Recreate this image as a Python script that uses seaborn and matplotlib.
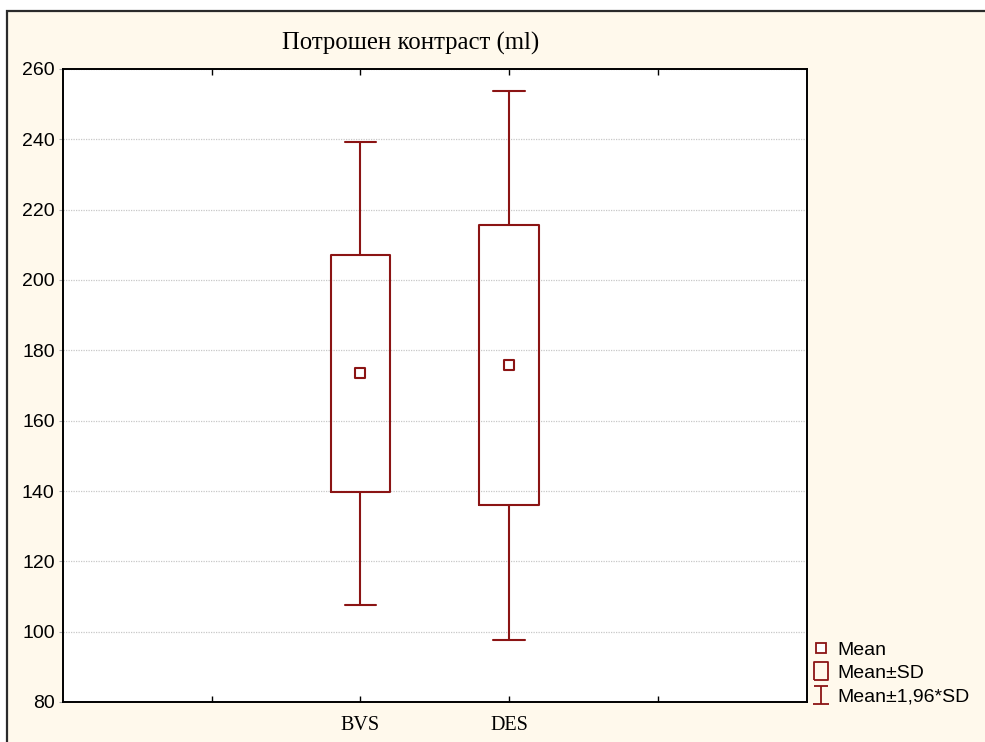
import matplotlib
matplotlib.use("Agg")
import matplotlib.pyplot as plt
import seaborn as sns
from matplotlib.lines import Line2D
from matplotlib.patches import Rectangle
from matplotlib.path import Path

# values (ml)
groups = ["BVS", "DES"]
group_pos = [2, 3]
means = [173.5, 175.8]
sd_low = [139.8, 136.0]
sd_high = [207.1, 215.5]
ci_low = [107.6, 97.7]
ci_high = [239.3, 253.7]
xtick_pos = [1, 2, 3, 4]
xtick_labels = ["", "BVS", "DES", ""]
yticks = list(range(80, 261, 20))
legend_labels = ["Mean", "Mean±SD", "Mean±1,96*SD"]

sns.set_theme(style="white")
plt.rcParams["font.family"] = ["Liberation Sans", "DejaVu Sans"]
plt.rcParams["text.color"] = "black"
plt.rcParams["xtick.color"] = "black"
plt.rcParams["ytick.color"] = "black"

red = "#8B1414"
cream = "#FFF9EC"
W, H = 985, 742

fig = plt.figure(figsize=(W / 100, H / 100), dpi=100)
fig.patch.set_facecolor("white")

# cream panel with the dark frame, running off the right and bottom edges
panel = Rectangle((7 / W, -0.1), 1.2, 1 - 11 / H + 0.1, transform=fig.transFigure,
                  facecolor=cream, edgecolor="#2b2b2b", lw=1.6, zorder=-5)
fig.add_artist(panel)

ax = fig.add_axes([63 / W, 1 - 702 / H, (806.5 - 63) / W, (702 - 69) / H])
ax.set_facecolor("white")

stats = []
for g, m, lo, hi, wlo, whi in zip(groups, means, sd_low, sd_high, ci_low, ci_high):
    stats.append(dict(label=g, med=m, mean=m, q1=lo, q3=hi, whislo=wlo, whishi=whi, fliers=[]))

line_kw = dict(color=red, linewidth=1.5)
ax.bxp(stats, positions=group_pos, widths=0.4, capwidths=0.21, showfliers=False,
       boxprops=line_kw, whiskerprops=line_kw, capprops=line_kw,
       medianprops=dict(linewidth=0, color="none"), manage_ticks=False)

sns.scatterplot(x=group_pos, y=means, marker="s", s=55, facecolor="white",
                edgecolor=red, linewidth=1.5, ax=ax, zorder=4, legend=False)

ax.set_xlim(0, 5)
ax.set_ylim(80, 260)
ax.set_xticks(xtick_pos)
ax.set_xticklabels(xtick_labels, fontfamily="Liberation Serif", fontsize=14.5)
ax.set_yticks(yticks)
ax.set_yticklabels([str(v) for v in yticks], fontsize=14)
ax.set_xlabel("")
ax.set_ylabel("")

ax.yaxis.grid(True, color="#c8c8c8", linestyle=(0, (1, 1)), linewidth=0.9)
ax.xaxis.grid(False)
ax.set_axisbelow(True)

ax.tick_params(axis="x", direction="in", bottom=True, top=True, length=4,
               width=1, color="black", pad=10, labelcolor="black")
ax.tick_params(axis="y", direction="out", left=True, right=False, length=3,
               width=0.8, color="#aaaaaa", pad=3, labelcolor="black")
for s in ax.spines.values():
    s.set_visible(True)
    s.set_color("black")
    s.set_linewidth(1.4)

fig.text(411 / W, 1 - 43 / H, "Потрошен контраст (ml)", ha="center", va="center",
         fontfamily="Liberation Serif", fontsize=17.8, color="black")

# legend handles
box_path = Path([(-0.4, -0.5), (0.4, -0.5), (0.4, 0.5), (-0.4, 0.5), (-0.4, -0.5)])
ibeam = Path([(-0.4, 0.5), (0.4, 0.5), (0, 0.5), (0, -0.5), (-0.45, -0.5), (0.45, -0.5)],
             [Path.MOVETO, Path.LINETO, Path.MOVETO, Path.LINETO, Path.MOVETO, Path.LINETO])
handles = [
    Line2D([], [], ls="none", marker="s", ms=6.5, mfc="white", mec=red, mew=1.3),
    Line2D([], [], ls="none", marker=box_path, ms=13, mfc="none", mec=red, mew=1.3),
    Line2D([], [], ls="none", marker=ibeam, ms=12.5, mfc="none", mec=red, mew=1.3),
]
fig.legend(handles, legend_labels, loc="upper left", bbox_to_anchor=(811 / W, 1 - 641 / H),
           frameon=False, fontsize=14, handlelength=1.0, handletextpad=0.35,
           labelspacing=0.3, borderaxespad=0, borderpad=0, labelcolor="black")

fig.savefig("out.png", dpi=100, facecolor=fig.get_facecolor())
